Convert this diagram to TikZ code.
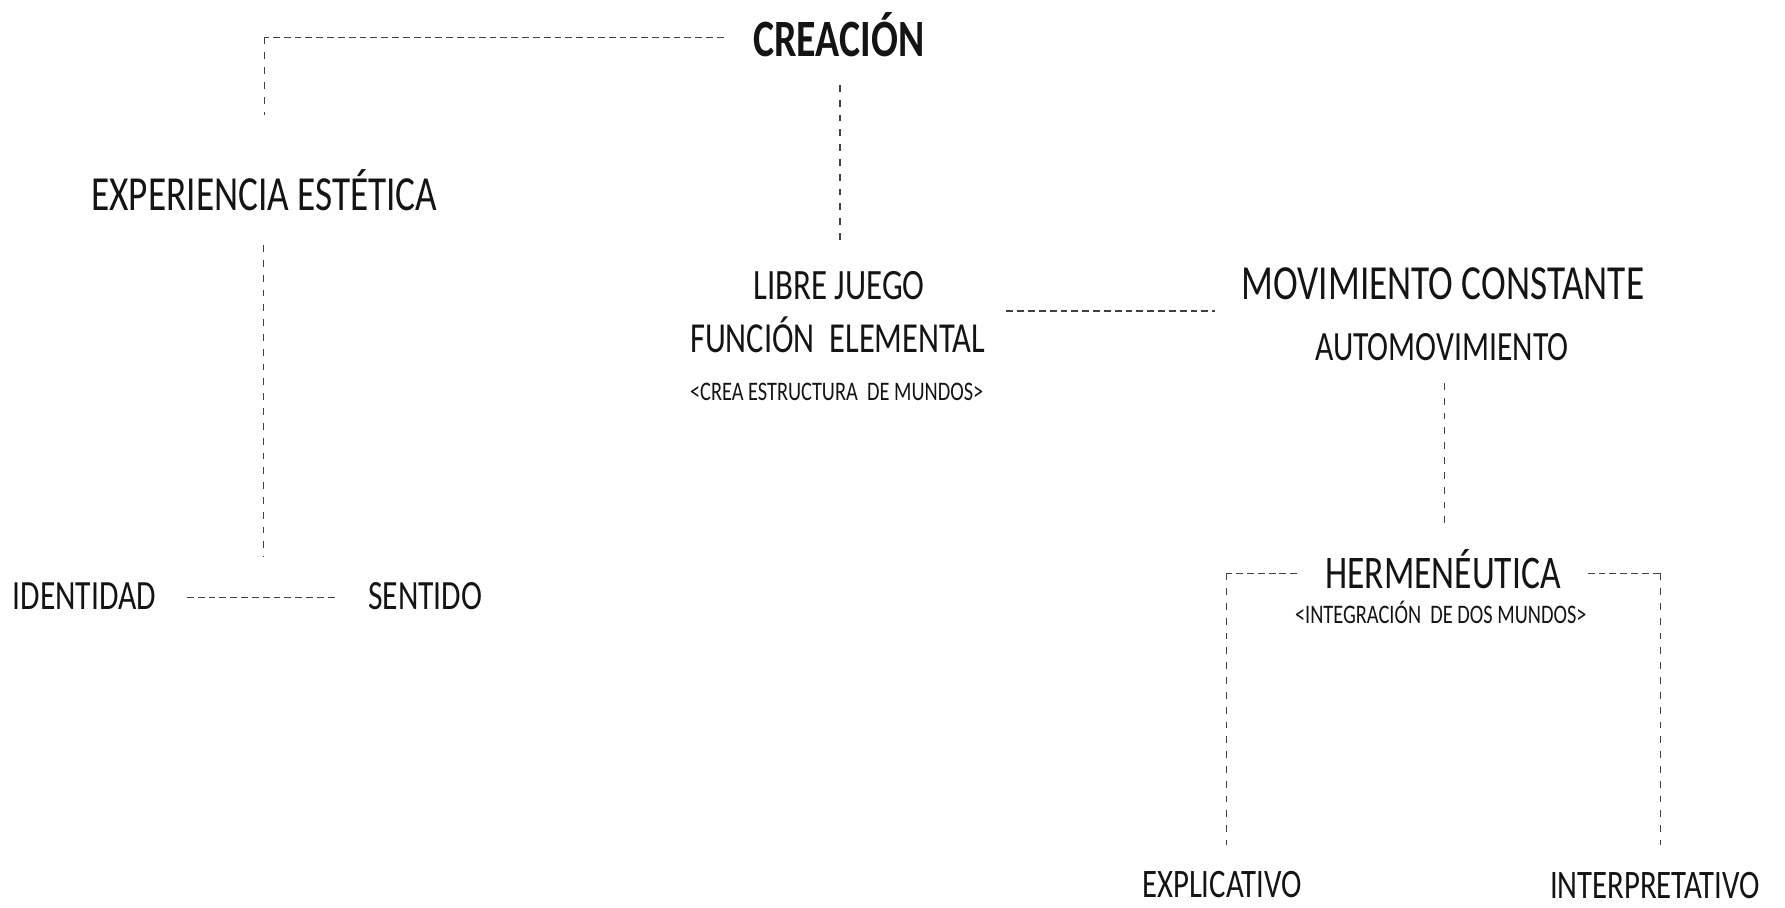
\documentclass[tikz,border=0pt]{standalone}
\usepackage{fontspec}
\newfontfamily\diagfont{Carlito}[FakeStretch=0.76]
\usetikzlibrary{calc}

\tikzset{
	lbl/.style={font={\diagfont\fontsize{#1}{#1}\selectfont}, inner sep=0, anchor=base, text=black!92},
	hlink/.style={draw=black!75, line width=1.2pt, dash pattern=on 6pt off 3.5pt},
	vlink/.style={draw=black!75, line width=1.2pt, dash pattern=on 6pt off 7pt}
}

\begin{document}
\begin{tikzpicture}[x=1pt, y=-1pt]
			\useasboundingbox (0, 0) rectangle (1566, 796.5);
			\node[lbl=46] (crea) at (736, 49.5) {\bfseries CREACIÓN};
			\node[lbl=43] (exp) at (232, 185) {EXPERIENCIA ESTÉTICA};
			\node[lbl=36.5] (ident) at (74, 535) {IDENTIDAD};
			\node[lbl=36.5] (sent) at (373, 535) {SENTIDO};
			\node[lbl=38] (libre) at (736, 263) {LIBRE JUEGO};
			\node[lbl=37.5] (func) at (735, 309.5) {FUNCIÓN\ \ ELEMENTAL};
			\node[lbl=23.5] (mundos) at (734, 351) {<CREA ESTRUCTURA\ \ DE MUNDOS>};
			\node[lbl=43] (mov) at (1266, 263) {MOVIMIENTO CONSTANTE};
			\node[lbl=36.5] (auto) at (1265, 316) {AUTOMOVIMIENTO};
			\node[lbl=41] (herm) at (1266, 516) {HERMENÉUTICA};
			\node[lbl=23.5] (integ) at (1264, 547) {<INTEGRACIÓN\ \ DE DOS MUNDOS>};
			\node[lbl=35.5] (expl) at (1072, 787) {EXPLICATIVO};
			\node[lbl=35.5] (interp) at (1452, 788) {INTERPRETATIVO};
			% ends of the dashed links
			\coordinate (crea-w) at (635, 33);
			\coordinate (exp-k) at (232, 33);
			\coordinate (exp-n) at (232, 101);
			\coordinate (crea-s) at (737, 74.5);
			\coordinate (libre-n) at (737, 216);
			\coordinate (exp-s) at (231, 215);
			\coordinate (exp-e) at (231, 489);
			\coordinate (ident-e) at (164, 524);
			\coordinate (sent-w) at (294, 524);
			\coordinate (func-e) at (883, 273);
			\coordinate (mov-w) at (1066, 273);
			\coordinate (auto-s) at (1267, 336);
			\coordinate (herm-n) at (1267, 465);
			\coordinate (herm-w) at (1138, 503);
			\coordinate (expl-k) at (1076, 503);
			\coordinate (expl-n) at (1076, 741);
			\coordinate (herm-e) at (1393, 503);
			\coordinate (interp-k) at (1457, 503);
			\coordinate (interp-n) at (1457, 741);
			\draw[hlink] (crea-w) -- (exp-k);
			\draw[vlink] (exp-k) -- (exp-n);
			\draw[vlink] (crea-s) -- (libre-n);
			\draw[vlink] (exp-s) -- (exp-e);
			\draw[hlink] (ident-e) -- (sent-w);
			\draw[hlink] (func-e) -- (mov-w);
			\draw[vlink] (auto-s) -- (herm-n);
			\draw[hlink] (herm-w) -- (expl-k);
			\draw[vlink] (expl-k) -- (expl-n);
			\draw[hlink] (herm-e) -- (interp-k);
			\draw[vlink] (interp-k) -- (interp-n);
		\end{tikzpicture}
\end{document}
